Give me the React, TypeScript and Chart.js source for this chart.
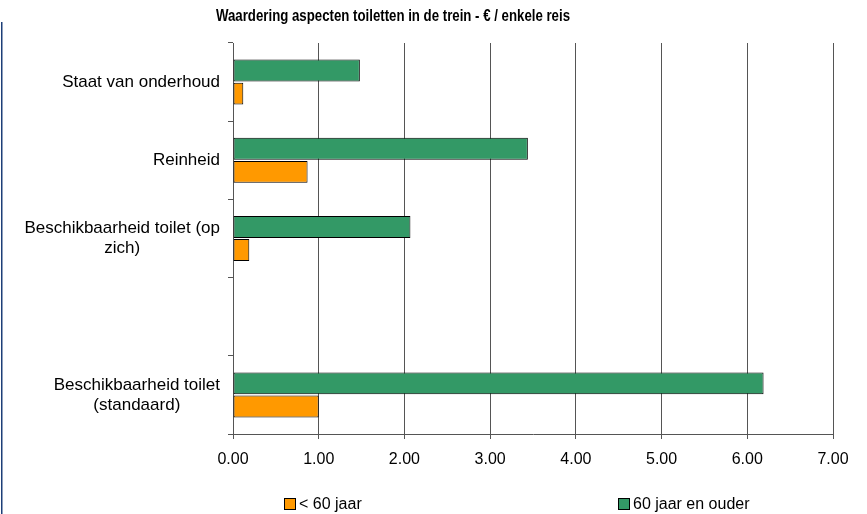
import React, { useEffect, useRef } from "react";
import { Chart, registerables } from "chart.js";

Chart.register(...registerables);

const categories: string[][] = [
  ["Staat van onderhoud"],
  ["Reinheid"],
  ["Beschikbaarheid toilet (op", "zich)"],
  [""],
  ["Beschikbaarheid toilet", "(standaard)"],
];
const olderValues: (number | null)[] = [1.48, 3.44, 2.07, null, 6.19];
const youngerValues: (number | null)[] = [0.12, 0.87, 0.19, null, 1.0];
const xTickValues: number[] = [0, 1, 2, 3, 4, 5, 6, 7];
const seriesNames = ["60 jaar en ouder", "< 60 jaar"];
const titleText = "Waardering aspecten toiletten in de trein - € / enkele reis";

const GREEN = "#339966";
const ORANGE = "#FF9900";
const FONT = "'Liberation Sans', Arial, sans-serif";

const overlayPlugin = {
  id: "overlay",
  afterDraw(chart: any) {
    const ctx = chart.ctx as CanvasRenderingContext2D;
    const area = chart.chartArea;
    const yScale = chart.scales.y;
    ctx.save();
    // left blue rule
    ctx.fillStyle = "#1d3f78";
    ctx.fillRect(1, 22, 1.5, chart.height - 22);

    // title
    ctx.fillStyle = "#000";
    ctx.font = "bold 16px 'Liberation Sans Narrow', 'Arial Narrow', " + FONT;
    ctx.textAlign = "center";
    ctx.textBaseline = "middle";
    const tw = ctx.measureText(titleText).width;
    const target = 354;
    const sx = target / tw;
    ctx.save();
    ctx.translate(393, 17);
    ctx.scale(sx, 1);
    ctx.fillText(titleText, 0, 0);
    ctx.restore();

    // category labels
    ctx.font = "17px " + FONT;
    ctx.fillStyle = "#000";
    const rightEdge = area.left - 13;
    const lh = 20;
    categories.forEach((lines, i) => {
      const cy = yScale.getPixelForValue(i);
      const maxW = Math.max(...lines.map((l) => ctx.measureText(l).width));
      const cx = rightEdge - maxW / 2;
      lines.forEach((l, j) => {
        const y = cy + (j - (lines.length - 1) / 2) * lh;
        ctx.fillText(l, cx, y);
      });
    });

    // legend
    ctx.font = "16px " + FONT;
    ctx.textAlign = "left";
    const items = [
      { name: seriesNames[1], color: ORANGE, x: 284 },
      { name: seriesNames[0], color: GREEN, x: 618 },
    ];
    items.forEach((it) => {
      ctx.fillStyle = it.color;
      ctx.fillRect(it.x, 498, 12, 12);
      ctx.strokeStyle = "#000";
      ctx.lineWidth = 1;
      ctx.strokeRect(it.x + 0.5, 498.5, 11, 11);
      ctx.fillStyle = "#000";
      ctx.fillText(it.name, it.x + 15, 505);
    });
    ctx.restore();
  },
};

export default function App() {
  const ref = useRef<HTMLCanvasElement>(null);
  useEffect(() => {
    document.body.style.margin = "0";
    const chart = new Chart(ref.current!, {
      type: "bar",
      data: {
        labels: categories,
        datasets: [
          {
            label: seriesNames[0],
            data: olderValues,
            backgroundColor: GREEN,
            borderColor: "#000",
            borderWidth: 1,
            borderSkipped: false,
            categoryPercentage: 0.59,
            barPercentage: 0.95,
          },
          {
            label: seriesNames[1],
            data: youngerValues,
            backgroundColor: ORANGE,
            borderColor: "#000",
            borderWidth: 1,
            borderSkipped: false,
            categoryPercentage: 0.59,
            barPercentage: 0.95,
          },
        ],
      },
      options: {
        indexAxis: "y",
        responsive: false,
        animation: false,
        layout: { padding: { left: 0, top: 43, right: 34, bottom: 0 } },
        plugins: {
          legend: { display: false },
          title: { display: false },
          tooltip: { enabled: false },
        },
        scales: {
          x: {
            min: 0,
            max: 7,
            afterBuildTicks: (s: any) => {
              s.ticks = xTickValues.map((v) => ({ value: v }));
            },
            afterFit: (s: any) => {
              s.height = 80;
            },
            ticks: {
              callback: (v: any) => Number(v).toFixed(2),
              color: "#000",
              font: { size: 16, family: FONT },
              padding: 11,
            },
            grid: {
              color: "#555",
              lineWidth: 1,
              drawTicks: true,
              tickLength: 5,
              tickColor: "#555",
            },
            border: { color: "#555", width: 1 },
          },
          y: {
            afterFit: (s: any) => {
              s.width = 233;
            },
            ticks: { display: false },
            grid: {
              drawOnChartArea: false,
              drawTicks: true,
              tickLength: 5,
              tickColor: "#555",
              offset: true,
            },
            border: { color: "#555", width: 1 },
          },
        },
      },
      plugins: [overlayPlugin],
    } as any);
    return () => chart.destroy();
  }, []);
  return (
    <div style={{ width: 867, height: 514, position: "relative" }}>
      <canvas ref={ref} width={867} height={514} style={{ display: "block" }} />
    </div>
  );
}
